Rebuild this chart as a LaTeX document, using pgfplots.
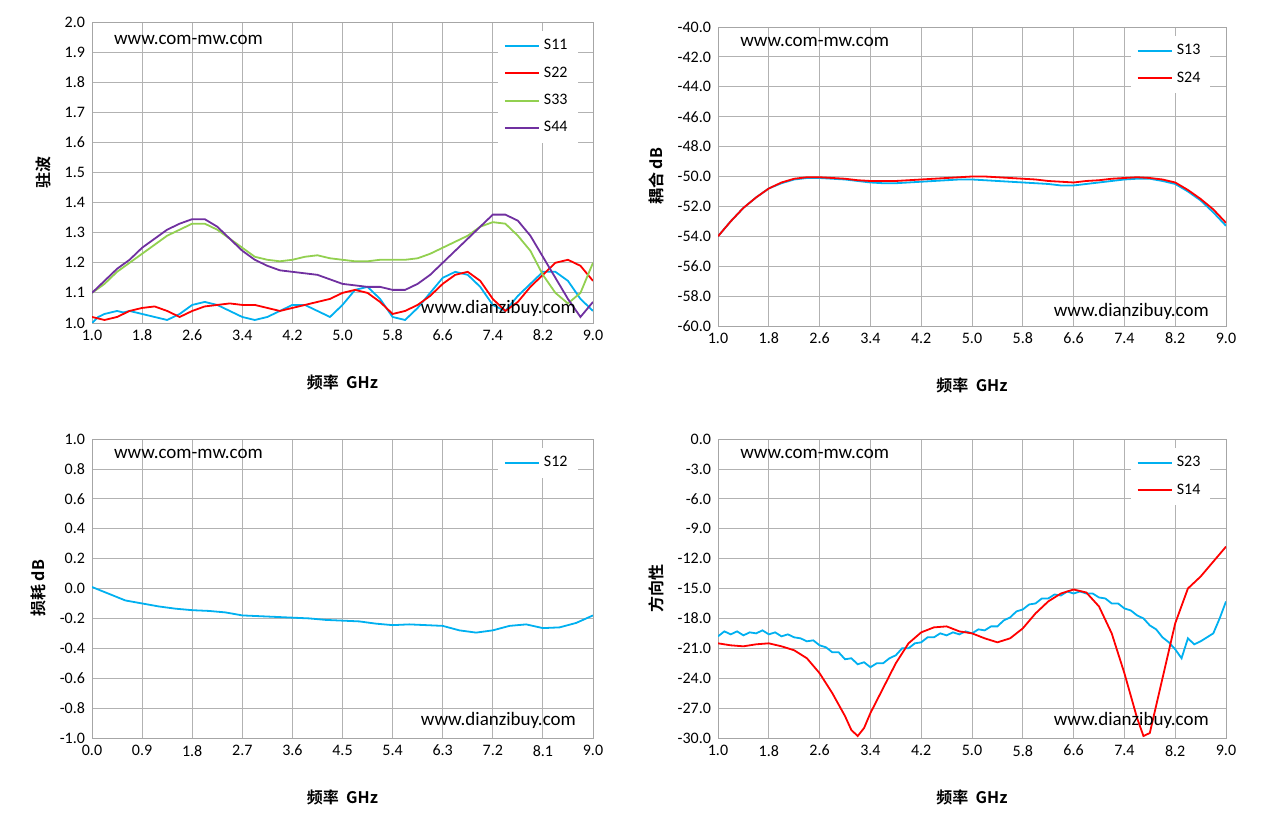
\documentclass[border=0pt]{standalone}
\usepackage{pgfplots}
\pgfplotsset{compat=1.18}
\usepackage{fontspec}
\setmainfont{Carlito}
\newfontfamily\cjk[BoldFont={Noto Sans CJK SC Bold}]{Noto Sans CJK SC}
\definecolor{cb}{RGB}{0,176,240}
\definecolor{cr}{RGB}{255,0,0}
\definecolor{cg}{RGB}{146,208,80}
\definecolor{cp}{RGB}{112,48,160}
\pgfplotsset{base/.style={scale only axis, anchor=south west,
 /pgf/number format/assume math mode=true,
 /pgf/number format/.cd,fixed,fixed zerofill,precision=1,/pgfplots/.cd,
 grid=major, grid style={gray!60,line width=0.4pt}, axis line style={gray!70},
 tick style={draw=none}, ticklabel style={font=\fontsize{8}{9.5}\selectfont},
 label style={font=\cjk\bfseries\fontsize{8}{9.5}\selectfont},
 xlabel={频率 \ GHz}, xlabel style={yshift=-10pt},
 legend style={draw=none, fill=white, font=\fontsize{8}{9.5}\selectfont, at={(0.97,0.97)}, anchor=north east, row sep=3pt},
 legend image post style={line width=1pt},
 legend cell align=left, every axis plot/.append style={line width=0.9pt, mark=none}}}
\newcommand\wm{\fontsize{9.5}{11}\selectfont}
\begin{document}
\begin{tikzpicture}
\useasboundingbox (0pt,0pt) rectangle (630.5pt,417.5pt);
\begin{axis}[base, at={(46pt,256pt)}, width=250.5pt, height=150.5pt, xmin=1,xmax=9,ymin=1,ymax=2,
 xtick={1,1.8,...,9.1}, ytick={1,1.1,...,2.01}, ylabel={驻波}]
\addplot[cb] coordinates {(1.0,1.00)(1.1,1.02)(1.2,1.03)(1.3,1.035)(1.4,1.04)(1.5,1.035)(1.6,1.04)(1.8,1.03)(2.0,1.02)(2.1,1.015)(2.2,1.01)(2.3,1.02)(2.4,1.03)(2.6,1.06)(2.8,1.07)(3.0,1.06)(3.2,1.04)(3.4,1.02)(3.6,1.01)(3.8,1.02)(4.0,1.04)(4.2,1.06)(4.4,1.06)(4.6,1.04)(4.8,1.02)(5.0,1.06)(5.2,1.11)(5.4,1.12)(5.6,1.08)(5.8,1.02)(6.0,1.01)(6.2,1.05)(6.4,1.10)(6.6,1.15)(6.8,1.17)(7.0,1.16)(7.2,1.12)(7.4,1.06)(7.6,1.04)(7.8,1.09)(8.0,1.13)(8.2,1.17)(8.4,1.17)(8.6,1.14)(8.8,1.08)(9.0,1.04)};
\addlegendentry{S11}
\addplot[cr] coordinates {(1.0,1.02)(1.2,1.01)(1.4,1.02)(1.6,1.04)(1.8,1.05)(2.0,1.055)(2.2,1.04)(2.4,1.02)(2.6,1.04)(2.8,1.055)(3.0,1.06)(3.2,1.065)(3.4,1.06)(3.6,1.06)(3.8,1.05)(4.0,1.04)(4.2,1.05)(4.4,1.06)(4.6,1.07)(4.8,1.08)(5.0,1.10)(5.2,1.11)(5.4,1.10)(5.6,1.07)(5.8,1.03)(6.0,1.04)(6.2,1.06)(6.4,1.09)(6.6,1.13)(6.8,1.16)(7.0,1.17)(7.2,1.14)(7.4,1.08)(7.6,1.04)(7.8,1.07)(8.0,1.12)(8.2,1.16)(8.4,1.20)(8.6,1.21)(8.8,1.19)(9.0,1.14)};
\addlegendentry{S22}
\addplot[cg] coordinates {(1.0,1.10)(1.2,1.13)(1.4,1.17)(1.6,1.20)(1.8,1.23)(2.0,1.26)(2.2,1.29)(2.4,1.31)(2.6,1.33)(2.8,1.33)(3.0,1.31)(3.2,1.28)(3.4,1.25)(3.6,1.22)(3.8,1.21)(4.0,1.205)(4.2,1.21)(4.4,1.22)(4.6,1.225)(4.8,1.215)(5.0,1.21)(5.2,1.205)(5.4,1.205)(5.6,1.21)(5.8,1.21)(6.0,1.21)(6.2,1.215)(6.4,1.23)(6.6,1.25)(6.8,1.27)(7.0,1.29)(7.2,1.32)(7.4,1.335)(7.6,1.33)(7.8,1.29)(8.0,1.24)(8.2,1.16)(8.4,1.10)(8.6,1.065)(8.8,1.10)(9.0,1.20)};
\addlegendentry{S33}
\addplot[cp] coordinates {(1.0,1.10)(1.2,1.14)(1.4,1.18)(1.6,1.21)(1.8,1.25)(2.0,1.28)(2.2,1.31)(2.4,1.33)(2.6,1.345)(2.8,1.345)(3.0,1.32)(3.2,1.28)(3.4,1.24)(3.6,1.21)(3.8,1.19)(4.0,1.175)(4.2,1.17)(4.4,1.165)(4.6,1.16)(4.8,1.145)(5.0,1.13)(5.2,1.125)(5.4,1.12)(5.6,1.12)(5.8,1.11)(6.0,1.11)(6.2,1.13)(6.4,1.16)(6.6,1.20)(6.8,1.24)(7.0,1.28)(7.2,1.32)(7.4,1.36)(7.6,1.36)(7.8,1.34)(8.0,1.29)(8.2,1.22)(8.4,1.15)(8.6,1.08)(8.8,1.02)(9.0,1.07)};
\addlegendentry{S44}
\node[anchor=west,font=\wm] at (rel axis cs:0.03,0.94) {www.com-mw.com};
\node[anchor=east,font=\wm] at (rel axis cs:0.98,0.05) {www.dianzibuy.com};
\end{axis}
\begin{axis}[base, at={(359pt,254.5pt)}, width=254pt, height=149.5pt, xmin=1,xmax=9,ymin=-60,ymax=-40,
 xtick={1,1.8,...,9.1}, ytick={-60,-58,...,-39}, ylabel={耦合 dB}]
\addplot[cb] coordinates {(1.0,-54.0)(1.2,-53.0)(1.4,-52.1)(1.6,-51.4)(1.8,-50.8)(2.0,-50.45)(2.2,-50.2)(2.4,-50.1)(2.6,-50.1)(2.8,-50.15)(3.0,-50.2)(3.2,-50.3)(3.4,-50.4)(3.6,-50.45)(3.8,-50.45)(4.0,-50.4)(4.2,-50.35)(4.4,-50.3)(4.6,-50.25)(4.8,-50.2)(5.0,-50.2)(5.2,-50.25)(5.4,-50.3)(5.6,-50.35)(5.8,-50.4)(6.0,-50.45)(6.2,-50.5)(6.4,-50.6)(6.6,-50.6)(6.8,-50.5)(7.0,-50.4)(7.2,-50.3)(7.4,-50.2)(7.6,-50.15)(7.8,-50.15)(8.0,-50.3)(8.2,-50.5)(8.4,-51.0)(8.6,-51.6)(8.8,-52.4)(9.0,-53.3)};
\addlegendentry{S13}
\addplot[cr] coordinates {(1.0,-54.0)(1.2,-53.0)(1.4,-52.1)(1.6,-51.4)(1.8,-50.8)(2.0,-50.4)(2.2,-50.15)(2.4,-50.05)(2.6,-50.05)(2.8,-50.1)(3.0,-50.15)(3.2,-50.25)(3.4,-50.3)(3.6,-50.3)(3.8,-50.3)(4.0,-50.25)(4.2,-50.2)(4.4,-50.15)(4.6,-50.1)(4.8,-50.05)(5.0,-50.0)(5.2,-50.0)(5.4,-50.05)(5.6,-50.1)(5.8,-50.15)(6.0,-50.2)(6.2,-50.3)(6.4,-50.35)(6.6,-50.4)(6.8,-50.3)(7.0,-50.25)(7.2,-50.15)(7.4,-50.1)(7.6,-50.05)(7.8,-50.1)(8.0,-50.2)(8.2,-50.4)(8.4,-50.9)(8.6,-51.5)(8.8,-52.2)(9.0,-53.1)};
\addlegendentry{S24}
\node[anchor=west,font=\wm] at (rel axis cs:0.03,0.95) {www.com-mw.com};
\node[anchor=east,font=\wm] at (rel axis cs:0.98,0.05) {www.dianzibuy.com};
\end{axis}
\begin{axis}[base, at={(46pt,48.5pt)}, width=250.5pt, height=149.5pt, xmin=0,xmax=9,ymin=-1,ymax=1,
 xtick={0,0.9,...,9.1}, ytick={-1,-0.8,...,1.01}, ylabel={损耗 dB}]
\addplot[cb] coordinates {(0,0.01)(0.2,-0.02)(0.4,-0.05)(0.6,-0.08)(0.9,-0.10)(1.2,-0.12)(1.5,-0.135)(1.8,-0.145)(2.1,-0.15)(2.4,-0.16)(2.7,-0.18)(3.0,-0.185)(3.3,-0.19)(3.6,-0.195)(3.9,-0.2)(4.2,-0.21)(4.5,-0.215)(4.8,-0.22)(5.1,-0.235)(5.4,-0.245)(5.7,-0.24)(6.0,-0.245)(6.3,-0.25)(6.6,-0.28)(6.9,-0.295)(7.2,-0.28)(7.5,-0.25)(7.8,-0.24)(8.1,-0.265)(8.4,-0.26)(8.7,-0.23)(9.0,-0.18)};
\addlegendentry{S12}
\node[anchor=west,font=\wm] at (rel axis cs:0.03,0.95) {www.com-mw.com};
\node[anchor=east,font=\wm] at (rel axis cs:0.98,0.06) {www.dianzibuy.com};
\end{axis}
\begin{axis}[base, at={(359pt,48.5pt)}, width=254pt, height=149.5pt, xmin=1,xmax=9,ymin=-30,ymax=0,
 xtick={1,1.8,...,9.1}, ytick={-30,-27,...,0.1}, ylabel={方向性}]
\addplot[cb] coordinates {(1.0,-19.8)(1.1,-19.3)(1.2,-19.6)(1.3,-19.3)(1.4,-19.7)(1.5,-19.4)(1.6,-19.5)(1.7,-19.2)(1.8,-19.6)(1.9,-19.4)(2.0,-19.8)(2.1,-19.6)(2.2,-19.9)(2.3,-20.0)(2.4,-20.3)(2.5,-20.2)(2.6,-20.7)(2.7,-20.9)(2.8,-21.4)(2.9,-21.4)(3.0,-22.1)(3.1,-22.0)(3.2,-22.6)(3.3,-22.4)(3.4,-22.9)(3.5,-22.5)(3.6,-22.5)(3.7,-22.0)(3.8,-21.7)(3.9,-21.0)(4.0,-21.0)(4.1,-20.5)(4.2,-20.4)(4.3,-19.9)(4.4,-19.9)(4.5,-19.5)(4.6,-19.7)(4.7,-19.4)(4.8,-19.6)(4.9,-19.3)(5.0,-19.5)(5.1,-19.1)(5.2,-19.2)(5.3,-18.8)(5.4,-18.8)(5.5,-18.2)(5.6,-17.9)(5.7,-17.3)(5.8,-17.1)(5.9,-16.6)(6.0,-16.5)(6.1,-16.0)(6.2,-16.0)(6.3,-15.6)(6.4,-15.7)(6.5,-15.3)(6.6,-15.5)(6.7,-15.3)(6.8,-15.5)(6.9,-15.5)(7.0,-15.9)(7.1,-16.0)(7.2,-16.5)(7.3,-16.5)(7.4,-17.0)(7.5,-17.2)(7.6,-17.7)(7.7,-18.0)(7.8,-18.7)(7.9,-19.1)(8.0,-19.9)(8.1,-20.4)(8.2,-21.1)(8.3,-22.0)(8.4,-20.0)(8.5,-20.6)(8.6,-20.3)(8.7,-19.9)(8.8,-19.5)(8.9,-18.0)(9.0,-16.3)};
\addlegendentry{S23}
\addplot[cr] coordinates {(1.0,-20.5)(1.2,-20.7)(1.4,-20.8)(1.6,-20.6)(1.8,-20.5)(2.0,-20.8)(2.2,-21.2)(2.4,-22.0)(2.6,-23.5)(2.8,-25.5)(3.0,-27.8)(3.1,-29.2)(3.2,-29.8)(3.3,-29.0)(3.4,-27.5)(3.6,-25.0)(3.8,-22.5)(4.0,-20.5)(4.2,-19.4)(4.4,-18.9)(4.6,-18.8)(4.8,-19.3)(5.0,-19.5)(5.2,-20.0)(5.4,-20.4)(5.6,-20.0)(5.8,-19.0)(6.0,-17.5)(6.2,-16.3)(6.4,-15.5)(6.6,-15.1)(6.8,-15.4)(7.0,-16.8)(7.2,-19.5)(7.4,-23.5)(7.6,-28.0)(7.7,-29.8)(7.8,-29.5)(8.0,-24.0)(8.2,-18.5)(8.4,-15.0)(8.6,-13.8)(8.8,-12.3)(9.0,-10.8)};
\addlegendentry{S14}
\node[anchor=west,font=\wm] at (rel axis cs:0.03,0.95) {www.com-mw.com};
\node[anchor=east,font=\wm] at (rel axis cs:0.98,0.06) {www.dianzibuy.com};
\end{axis}
\end{tikzpicture}
\end{document}
